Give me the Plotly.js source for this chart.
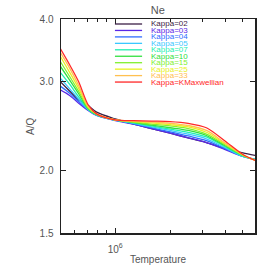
<!DOCTYPE html>
<html>
<head>
<meta charset="utf-8">
<script src="https://cdn.plot.ly/plotly-3.0.1.min.js"></script>
<style>html,body{margin:0;padding:0;background:#fff;}#chart{width:273px;height:273px;}</style>
</head>
<body>
<div id="chart"></div>
<script>
// Temperature grid (K)
const temperature = [5.0e5, 5.6e5, 6.3e5, 7.1e5, 7.9e5, 1.0e6, 1.26e6, 1.58e6, 2.0e6, 2.51e6, 3.16e6, 3.98e6, 5.01e6, 5.89e6];

const seriesNames = ["Kappa=02","Kappa=03","Kappa=04","Kappa=05","Kappa=07","Kappa=10","Kappa=15","Kappa=25","Kappa=33","Kappa=KMaxwellian"];
const seriesColors = ["#3c1e46","#5a28e6","#2f6cff","#3ac8ff","#20f0b0","#30e040","#80f030","#e8f020","#ffc050","#ff2828"];

const aq_k02 = [3.00, 2.88, 2.76, 2.69, 2.61, 2.53, 2.47, 2.42, 2.37, 2.32, 2.27, 2.21, 2.165, 2.14];
const aq_k03 = [2.89, 2.82, 2.72, 2.63, 2.57, 2.51, 2.47, 2.42, 2.37, 2.32, 2.27, 2.20, 2.13, 2.10];
const aq_k04 = [2.94, 2.85, 2.74, 2.64, 2.575, 2.515, 2.475, 2.43, 2.385, 2.34, 2.29, 2.21, 2.13, 2.10];
const aq_k05 = [3.05, 2.91, 2.77, 2.64, 2.575, 2.515, 2.48, 2.44, 2.40, 2.36, 2.31, 2.22, 2.13, 2.10];
const aq_k07 = [3.13, 2.97, 2.80, 2.645, 2.58, 2.515, 2.485, 2.45, 2.415, 2.38, 2.33, 2.23, 2.135, 2.10];
const aq_k10 = [3.22, 3.03, 2.84, 2.65, 2.58, 2.52, 2.49, 2.46, 2.43, 2.40, 2.345, 2.24, 2.14, 2.095];
const aq_k15 = [3.29, 3.08, 2.87, 2.66, 2.585, 2.52, 2.495, 2.47, 2.45, 2.42, 2.36, 2.25, 2.14, 2.095];
const aq_k25 = [3.37, 3.14, 2.91, 2.67, 2.59, 2.52, 2.50, 2.485, 2.465, 2.44, 2.38, 2.26, 2.145, 2.09];
const aq_k33 = [3.43, 3.20, 2.95, 2.68, 2.59, 2.52, 2.505, 2.495, 2.48, 2.455, 2.40, 2.27, 2.15, 2.09];
const aq_kmax = [3.49, 3.25, 3.00, 2.70, 2.59, 2.52, 2.51, 2.505, 2.50, 2.48, 2.43, 2.29, 2.15, 2.09];

const allSeries = [aq_k02, aq_k03, aq_k04, aq_k05, aq_k07, aq_k10, aq_k15, aq_k25, aq_k33, aq_kmax];

const yTickVals = [1.5, 2.0, 3.0, 4.0];
const yTickText = ["1.5", "2.0", "3.0", "4.0"];
const xTickVals = [1e6];
const xTickText = ["10<sup>6</sup>"];
const xMinorVals = [6e5, 7e5, 8e5, 9e5, 2e6, 3e6, 4e6, 5e6];

const traces = allSeries.map((ys, i) => ({
  x: temperature, y: ys, type: "scatter", mode: "lines",
  name: seriesNames[i],
  line: {color: seriesColors[i], width: 1.3, shape: "spline", smoothing: 0.8},
  showlegend: false, hoverinfo: "skip"
}));

// manual compact legend
const legX0 = 0.278, legX1 = 0.418, legTextX = 0.452;
const legTop = 24, legStep = 6.45;
const plotTop = 19, plotH = 214;
const shapes = [], annotations = [];
seriesNames.forEach((n, i) => {
  const ypix = legTop + i * legStep;
  const yp = 1 - (ypix - plotTop) / plotH;
  shapes.push({type: "line", xref: "paper", yref: "paper", x0: legX0, x1: legX1, y0: yp, y1: yp,
    line: {color: seriesColors[i], width: 1.3}});
  annotations.push({xref: "paper", yref: "paper", x: legTextX, y: yp, xanchor: "left", yanchor: "middle",
    text: n, showarrow: false, font: {family: "Liberation Sans, Arial, sans-serif", size: 8, color: seriesColors[i]}});
});

const axisFont = {family: "Liberation Sans, Arial, sans-serif", size: 10, color: "#555"};

// y-axis title placed as rotated annotation to match reference position
annotations.push({xref: "paper", yref: "paper", x: -0.16, y: 0.5, xanchor: "center", yanchor: "middle",
  text: "A/Q", textangle: -90, showarrow: false, font: axisFont});

const layout = {
  width: 273, height: 273,
  margin: {l: 61, r: 18, t: 19, b: 40},
  paper_bgcolor: "#fff", plot_bgcolor: "#fff",
  title: {text: "Ne", x: 0.578, xanchor: "center", y: 0.962, yanchor: "middle",
    font: {family: "Liberation Sans, Arial, sans-serif", size: 11, color: "#555"}},
  xaxis: {
    type: "log", range: [Math.log10(5.04e5), Math.log10(5.84e6)],
    tickmode: "array", tickvals: xTickVals, ticktext: xTickText,
    ticks: "inside", ticklen: 5, tickwidth: 1, tickcolor: "#222",
    minor: {tickmode: "array", tickvals: xMinorVals, ticks: "inside", ticklen: 3, tickcolor: "#222", showgrid: false},
    showline: true, linecolor: "#222", linewidth: 1.5, mirror: "ticks",
    showgrid: false, zeroline: false, tickfont: axisFont, ticklabelstandoff: 6,
    title: {text: "Temperature", font: axisFont, standoff: 2}
  },
  yaxis: {
    type: "log", range: [Math.log10(1.5), Math.log10(4.0)],
    tickmode: "array", tickvals: yTickVals, ticktext: yTickText,
    ticks: "inside", ticklen: 5, tickwidth: 1, tickcolor: "#222",
    showline: true, linecolor: "#222", linewidth: 1.5, mirror: "ticks",
    showgrid: false, zeroline: false, tickfont: axisFont, ticklabelstandoff: 4
  },
  shapes: shapes,
  annotations: annotations,
  showlegend: false
};

Plotly.newPlot("chart", traces, layout, {staticPlot: true, displayModeBar: false});
</script>
</body>
</html>
